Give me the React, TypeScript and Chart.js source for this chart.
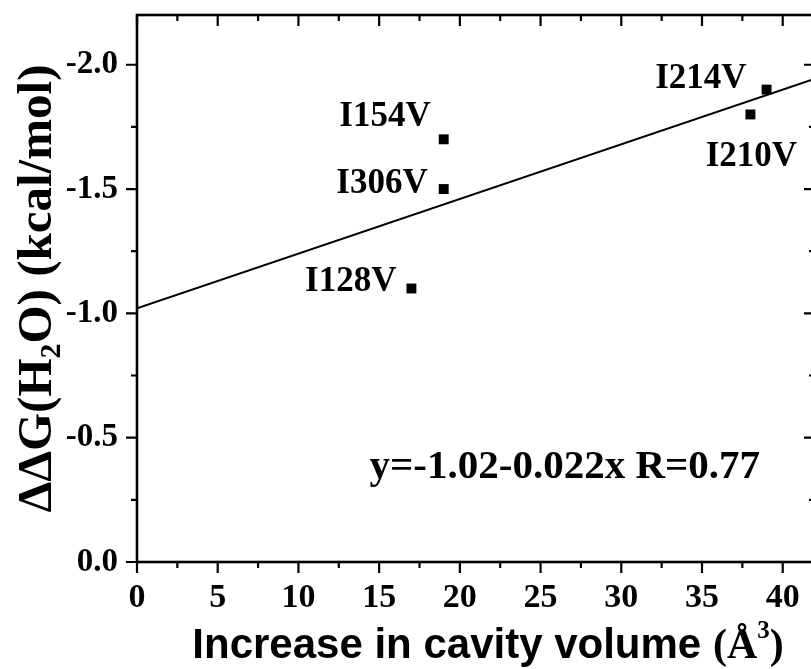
import React, { useEffect, useRef } from 'react';
import { Chart, registerables } from 'chart.js';

Chart.register(...registerables);

// ---- data ----
const mutantLabels = ['I128V', 'I154V', 'I306V', 'I210V', 'I214V'];
const cavityIncrease = [17, 19, 19, 38, 39];
const ddG = [-1.1, -1.7, -1.5, -1.8, -1.9];
const fitX = [0, 42];
const fitY = [-1.02, -1.944];
const xTickValues = [0, 5, 10, 15, 20, 25, 30, 35, 40];
const xMinorValues = [2.5, 7.5, 12.5, 17.5, 22.5, 27.5, 32.5, 37.5];
const yTickValues = [0, -0.5, -1.0, -1.5, -2.0];
const yMinorValues = [-0.25, -0.75, -1.25, -1.75];
const equationText = 'y=-1.02-0.022x R=0.77';
const equationAt = { x: 14.4, y: -0.38 };

// label placement relative to each point (pixels)
const labelPlacement = [
  { dx: -15, dy: -7, align: 'right' },
  { dx: -13, dy: -22, align: 'right' },
  { dx: -16, dy: -5, align: 'right' },
  { dx: 1, dy: 42, align: 'center' },
  { dx: -20, dy: -11, align: 'right' },
];

const SERIF = "'Liberation Serif', 'Times New Roman', serif";
const SANS = "'Liberation Sans', Arial, sans-serif";

const CW = 830;
const CH = 669;
const AREA = { left: 137, top: 15, right: 815, bottom: 562 };

const decorPlugin = {
  id: 'decor',
  afterDraw(chart: any) {
    const ctx = chart.ctx as CanvasRenderingContext2D;
    const xs = chart.scales.x;
    const ys = chart.scales.y;
    const a = chart.chartArea;
    ctx.save();
    ctx.strokeStyle = '#000';
    ctx.fillStyle = '#000';

    // frame
    ctx.lineWidth = 2.6;
    ctx.strokeRect(a.left, a.top, a.right - a.left, a.bottom - a.top);

    // ticks
    ctx.lineWidth = 2.2;
    const MAJ = 11;
    const MIN = 6;
    ctx.beginPath();
    xTickValues.forEach((v) => {
      const px = xs.getPixelForValue(v);
      ctx.moveTo(px, a.bottom);
      ctx.lineTo(px, a.bottom + MAJ);
      ctx.moveTo(px, a.top);
      ctx.lineTo(px, a.top + MAJ);
    });
    xMinorValues.forEach((v) => {
      const px = xs.getPixelForValue(v);
      ctx.moveTo(px, a.bottom);
      ctx.lineTo(px, a.bottom + MIN);
      ctx.moveTo(px, a.top);
      ctx.lineTo(px, a.top + MIN);
    });
    yTickValues.forEach((v) => {
      const py = ys.getPixelForValue(v);
      ctx.moveTo(a.left, py);
      ctx.lineTo(a.left - MAJ, py);
      ctx.moveTo(a.right, py);
      ctx.lineTo(a.right - MAJ, py);
    });
    yMinorValues.forEach((v) => {
      const py = ys.getPixelForValue(v);
      ctx.moveTo(a.left, py);
      ctx.lineTo(a.left - MIN, py);
      ctx.moveTo(a.right, py);
      ctx.lineTo(a.right - MIN, py);
    });
    ctx.stroke();

    // point labels
    ctx.font = `bold 35px ${SERIF}`;
    ctx.textBaseline = 'middle';
    mutantLabels.forEach((lab, i) => {
      const p = labelPlacement[i];
      const px = xs.getPixelForValue(cavityIncrease[i]);
      const py = ys.getPixelForValue(ddG[i]);
      ctx.textAlign = p.align as CanvasTextAlign;
      ctx.fillText(lab, px + p.dx, py + p.dy);
    });

    // equation
    ctx.font = `bold 41px ${SERIF}`;
    ctx.textAlign = 'left';
    ctx.fillText(equationText, xs.getPixelForValue(equationAt.x), ys.getPixelForValue(equationAt.y));

    // x-axis title (mixed fonts)
    ctx.textBaseline = 'alphabetic';
    const baseY = 658;
    const sansPart = 'Increase in cavity volume ';
    const fSans = `bold 42px ${SANS}`;
    const fSerif = `bold 42px ${SERIF}`;
    const fSup = `bold 25px ${SERIF}`;
    ctx.font = fSans;
    const w1 = ctx.measureText(sansPart).width;
    ctx.font = fSerif;
    const wOpen = ctx.measureText('(').width;
    const wA = ctx.measureText('\u00C5').width;
    const wClose = ctx.measureText(')').width;
    ctx.font = fSup;
    const wSup = ctx.measureText('3').width;
    const total = w1 + wOpen + wA + wSup + wClose;
    let cx = 488 - total / 2;
    ctx.textAlign = 'left';
    ctx.font = fSans;
    ctx.fillText(sansPart, cx, baseY);
    cx += w1;
    ctx.font = fSerif;
    ctx.fillText('(', cx, baseY);
    cx += wOpen;
    ctx.fillText('\u00C5', cx, baseY);
    cx += wA;
    ctx.font = fSup;
    ctx.fillText('3', cx, baseY - 20);
    cx += wSup;
    ctx.font = fSerif;
    ctx.fillText(')', cx, baseY);

    // y-axis title (rotated, with subscript)
    ctx.save();
    ctx.translate(51, (a.top + a.bottom) / 2);
    ctx.rotate(-Math.PI / 2);
    const fMain = `bold 49px ${SERIF}`;
    const fSub = `bold 30px ${SERIF}`;
    const partA = '\u0394\u0394G(H';
    const partB = '2';
    const partC = 'O) (kcal/mol)';
    ctx.font = fMain;
    const wa = ctx.measureText(partA).width;
    const wc = ctx.measureText(partC).width;
    ctx.font = fSub;
    const wb = ctx.measureText(partB).width;
    const tot = wa + wb + wc;
    let tx = -tot / 2;
    ctx.textAlign = 'left';
    ctx.font = fMain;
    ctx.fillText(partA, tx, 0);
    tx += wa;
    ctx.font = fSub;
    ctx.fillText(partB, tx, 9);
    tx += wb;
    ctx.font = fMain;
    ctx.fillText(partC, tx, 0);
    ctx.restore();

    ctx.restore();
  },
};

export default function App() {
  const ref = useRef<HTMLCanvasElement | null>(null);

  useEffect(() => {
    if (!ref.current) return;
    const points = cavityIncrease.map((x, i) => ({ x, y: ddG[i] }));
    const fit = fitX.map((x, i) => ({ x, y: fitY[i] }));
    const chart = new Chart(ref.current, {
      type: 'scatter',
      data: {
        datasets: [
          {
            label: 'fit',
            data: fit,
            showLine: true,
            borderColor: '#000',
            borderWidth: 2,
            pointRadius: 0,
            fill: false,
          },
          {
            label: 'mutants',
            data: points,
            pointStyle: 'rect',
            pointRadius: 7,
            pointBackgroundColor: '#000',
            pointBorderWidth: 0,
            borderColor: '#000',
          },
        ],
      },
      options: {
        responsive: false,
        animation: false,
        devicePixelRatio: 1,
        layout: {
          padding: { left: 0, top: AREA.top, right: CW - AREA.right, bottom: 0 },
        },
        plugins: {
          legend: { display: false },
          tooltip: { enabled: false },
        },
        scales: {
          x: {
            type: 'linear',
            min: 0,
            max: 42,
            afterBuildTicks: (s: any) => {
              s.ticks = xTickValues.map((v) => ({ value: v }));
            },
            afterFit: (s: any) => {
              s.height = CH - AREA.bottom;
              s.paddingLeft = 0;
              s.paddingRight = 0;
            },
            grid: { display: false, drawTicks: true, tickLength: 11 },
            border: { display: false },
            ticks: {
              color: '#000',
              padding: 5,
              maxRotation: 0,
              autoSkip: false,
              font: { family: SERIF, weight: 'bold', size: 34 },
              callback: (v: any) => String(v),
            },
          },
          y: {
            type: 'linear',
            min: -2.2,
            max: 0,
            reverse: true,
            afterBuildTicks: (s: any) => {
              s.ticks = yTickValues.map((v) => ({ value: v }));
            },
            afterFit: (s: any) => {
              s.width = AREA.left;
              s.paddingTop = 0;
              s.paddingBottom = 0;
            },
            grid: { display: false, drawTicks: true, tickLength: 11 },
            border: { display: false },
            ticks: {
              color: '#000',
              padding: 8,
              autoSkip: false,
              font: { family: SERIF, weight: 'bold', size: 33 },
              callback: (v: any) => Number(v).toFixed(1),
            },
          },
        },
      },
      plugins: [decorPlugin],
    });
    return () => chart.destroy();
  }, []);

  return (
    <div
      style={{
        position: 'fixed',
        left: 0,
        top: 0,
        width: 811,
        height: 669,
        overflow: 'hidden',
        background: '#fff',
      }}
    >
      <canvas ref={ref} width={CW} height={CH} style={{ display: 'block', width: CW, height: CH }} />
    </div>
  );
}
